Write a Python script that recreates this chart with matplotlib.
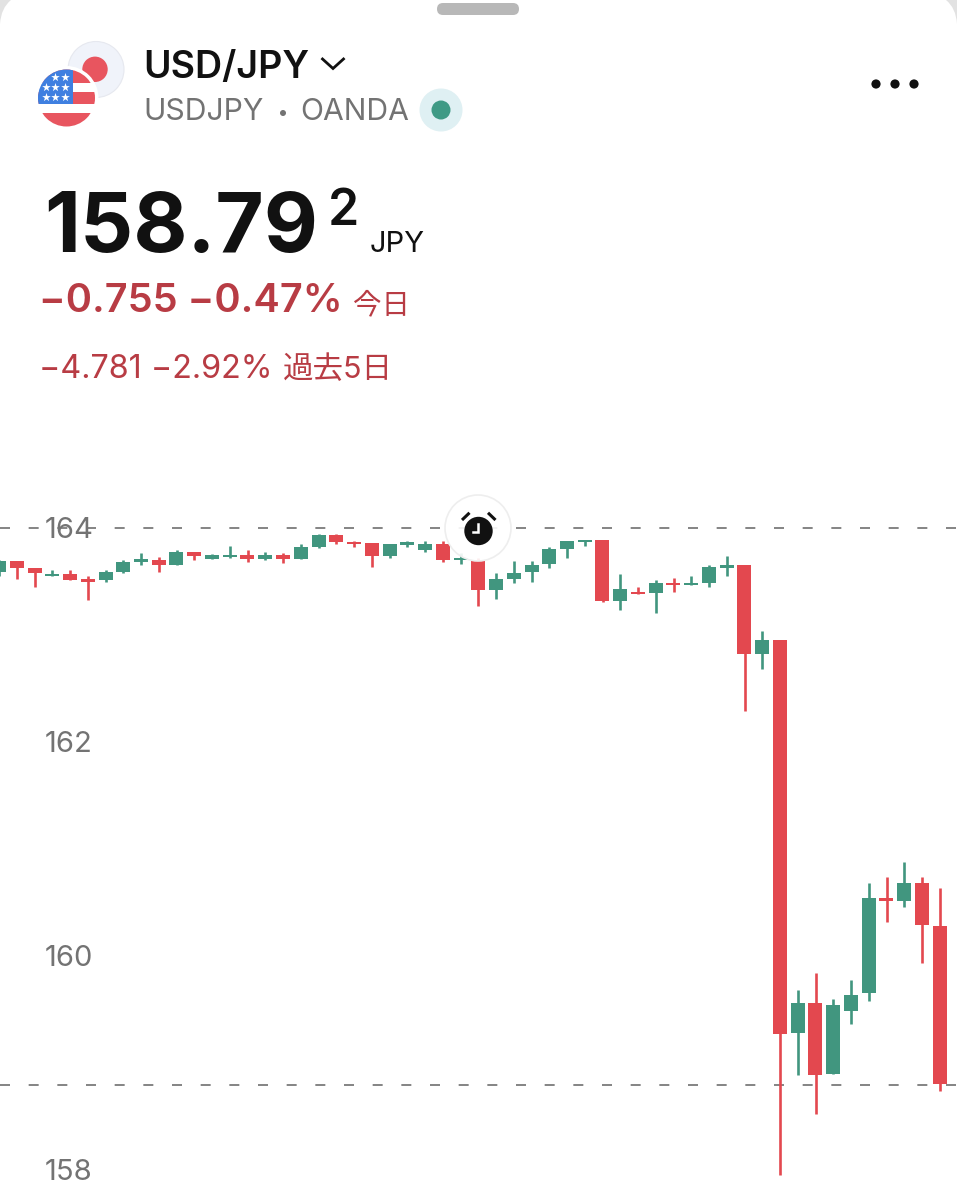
#!/usr/bin/env python3

import matplotlib
matplotlib.use('Agg')
import matplotlib.pyplot as plt
from matplotlib.patches import Circle, FancyBboxPatch, PathPatch, Rectangle
from matplotlib.path import Path

UP = '#41967f'
DOWN = '#e3484f'
TEXT_RED = '#b83c44'
GRAY = '#737373'

opens = [163.59, 163.69, 163.63, 163.55, 163.57, 163.52, 163.51, 163.59, 163.68, 163.70,
         163.65, 163.78, 163.71, 163.73, 163.75, 163.71, 163.75, 163.71, 163.82, 163.93,
         163.87, 163.86, 163.74, 163.84, 163.79, 163.85, 163.70, 163.69, 163.42, 163.52,
         163.59, 163.66, 163.80, 163.87, 163.89, 163.32, 163.40, 163.39, 163.49, 163.47,
         163.49, 163.63, 163.65, 162.82, 162.95, 159.28, 159.56, 158.90, 159.49, 159.65,
         160.54, 160.51, 160.68, 160.28]
highs = [163.70, 163.69, 163.63, 163.61, 163.61, 163.55, 163.61, 163.70, 163.77, 163.73,
         163.79, 163.78, 163.76, 163.83, 163.79, 163.78, 163.77, 163.85, 163.94, 163.94,
         163.88, 163.86, 163.85, 163.88, 163.88, 163.88, 163.77, 163.72, 163.58, 163.69,
         163.69, 163.82, 163.88, 163.89, 163.89, 163.57, 163.45, 163.51, 163.53, 163.55,
         163.65, 163.74, 163.65, 163.04, 162.95, 159.68, 159.84, 159.60, 159.78, 160.68,
         160.74, 160.88, 160.74, 160.64]
lows = [163.55, 163.52, 163.45, 163.55, 163.51, 163.33, 163.50, 163.58, 163.65, 163.59,
        163.65, 163.70, 163.71, 163.72, 163.68, 163.70, 163.67, 163.71, 163.81, 163.85,
        163.82, 163.64, 163.72, 163.82, 163.78, 163.68, 163.66, 163.27, 163.34, 163.49,
        163.50, 163.63, 163.72, 163.83, 163.31, 163.23, 163.38, 163.21, 163.40, 163.47,
        163.45, 163.55, 162.29, 162.68, 157.95, 158.89, 158.52, 158.90, 159.36, 159.58,
        160.32, 160.46, 159.93, 158.74]
closes = [163.69, 163.63, 163.58, 163.57, 163.51, 163.50, 163.59, 163.68, 163.71, 163.65,
          163.78, 163.74, 163.75, 163.745, 163.71, 163.75, 163.71, 163.82, 163.93, 163.87,
          163.85, 163.74, 163.85, 163.87, 163.85, 163.70, 163.72, 163.42, 163.52, 163.58,
          163.65, 163.80, 163.88, 163.89, 163.32, 163.43, 163.38, 163.49, 163.47, 163.49,
          163.64, 163.65, 162.82, 162.95, 159.27, 159.56, 158.89, 159.54, 159.64, 160.54,
          160.51, 160.68, 160.29, 158.80]

y_ticks = [158, 160, 162, 164]
ref_lines = [164.0, 158.79]

W, H = 957, 1200
plt.rcParams['font.family'] = ['Inter', 'Noto Sans CJK JP', 'DejaVu Sans']
fig = plt.figure(figsize=(W / 100, H / 100), dpi=100, facecolor='white')

# chart area runs from y=440 to the bottom edge, candles 17.75 px apart
ax = fig.add_axes([0, 0, 1, 760 / H])
ax.set_xlim(1 / 17.75, 958 / 17.75)
ax.set_ylim(164 - 672 / 107, 164 + 88 / 107)
for s in ax.spines.values():
    s.set_visible(False)
ax.set_xticks([])
ax.set_yticks(y_ticks)
ax.tick_params(axis='y', length=0, pad=-32.4, labelsize=21, labelcolor=GRAY)
for lbl in ax.get_yticklabels():
    lbl.set_ha('left')

for val in ref_lines:
    ax.axhline(val, color='#6f6f6f', lw=1.2, ls=(0, (6, 11.2)), zorder=1)

for i, (o, h, l, c) in enumerate(zip(opens, highs, lows, closes)):
    col = UP if c >= o else DOWN
    ax.vlines(i, l, h, color=col, lw=1.9, zorder=3)
    ax.bar(i, abs(c - o), bottom=min(o, c), width=14 / 17.75, color=col, zorder=3, linewidth=0)

# everything above the chart, in pixel coordinates
ov = fig.add_axes([0, 0, 1, 1], facecolor='none')
ov.set_xlim(0, W)
ov.set_ylim(H, 0)
ov.axis('off')

# alarm badge
ov.add_patch(Circle((478, 528), 33, fc=(1, 1, 1, 0.9), ec='#eeeeee', lw=1.2))
ov.add_patch(Circle((478.5, 531), 14.2, fc='#111111', ec='none'))
ov.plot([462, 469.5], [520, 512.8], color='#111111', lw=2.2, solid_capstyle='butt')
ov.plot([488, 495.5], [512.8, 520], color='#111111', lw=2.2, solid_capstyle='butt')
ov.plot([478.3, 478.3, 473.3], [523.5, 532.3, 532.3], color='white', lw=1.8, solid_joinstyle='miter')

# sheet handle and corners
ov.add_patch(FancyBboxPatch((437, 3), 82, 12, boxstyle='round,pad=0,rounding_size=6', fc='#b8b8b8', ec='none'))
ov.add_patch(PathPatch(Path([(0, 0), (0, 24), (1, 8), (11, 0), (0, 0)],
                            [Path.MOVETO, Path.LINETO, Path.CURVE3, Path.CURVE3, Path.CLOSEPOLY]),
                       fc='#e2e2e2', ec='none'))
ov.add_patch(PathPatch(Path([(957, 0), (957, 24), (956, 8), (946, 0), (957, 0)],
                            [Path.MOVETO, Path.LINETO, Path.CURVE3, Path.CURVE3, Path.CLOSEPOLY]),
                       fc='#e2e2e2', ec='none'))

# flags
ov.add_patch(Circle((96, 69.5), 28, fc='#f0f3fa', ec='#e6e8ef', lw=0.8))
ov.add_patch(Circle((95, 69.3), 12.7, fc='#e8555f', ec='none'))
ov.add_patch(Circle((66.5, 98), 32, fc='white', ec='none'))
clip = Circle((66.5, 98), 28.5, transform=ov.transData)
for y0, y1, col in [(69, 83, '#e8555f'), (92, 104, '#e8555f'), (113, 127, '#e8555f')]:
    r = ov.add_patch(Rectangle((38, y0), 57, y1 - y0, fc=col, ec='none'))
    r.set_clip_path(clip)
r = ov.add_patch(Rectangle((38, 69), 35, 35, fc='#3f7fe0', ec='none'))
r.set_clip_path(clip)
for sy, sxs in [(77.3, [55.3, 65]), (87, [46, 55.3, 65]), (96.7, [46, 55.3, 65])]:
    ov.scatter(sxs, [sy] * len(sxs), marker='*', s=42, c='white', linewidths=0, zorder=4)

# status dot
ov.add_patch(Circle((441, 110), 21.5, fc='#dff0f3', ec='none'))
ov.add_patch(Circle((441, 110), 9.5, fc='#3f9a85', ec='none'))

# chevron, menu dots
ov.plot([322.5, 333, 343.5], [59, 68.5, 59], color='#111111', lw=2.0, solid_joinstyle='miter')
for dx in [876, 895, 914]:
    ov.add_patch(Circle((dx, 84), 4.6, fc='#111111', ec='none'))

ov.text(143, 78, 'USD/JPY', fontsize=27, fontweight='semibold', color='#111111', va='baseline')
ov.text(143, 120, 'USDJPY', fontsize=21.7, color=GRAY, va='baseline')
ov.add_patch(Circle((283, 113), 3, fc=GRAY, ec='none'))
ov.text(300, 120, 'OANDA', fontsize=21.7, color=GRAY, va='baseline')

ov.text(44, 252, '158.79', fontsize=60, fontweight='bold', color='#111111', va='baseline')
ov.text(328, 225, '2', fontsize=36, fontweight='semibold', color='#111111', va='baseline')
ov.text(370, 252, 'JPY', fontsize=21, color='#111111', va='baseline')

ov.text(39, 312, '\u22120.755 \u22120.47%', fontsize=28.6, fontweight='semibold', color=TEXT_RED, va='baseline')
ov.text(353, 313, '今日', fontsize=20.5, color=TEXT_RED, va='baseline')
ov.text(39, 378, '\u22124.781 \u22122.92%', fontsize=23.3, color=TEXT_RED, va='baseline')
ov.text(283, 378, '過去5日', fontsize=22, color=TEXT_RED, va='baseline')

fig.savefig('out.png', dpi=100)
